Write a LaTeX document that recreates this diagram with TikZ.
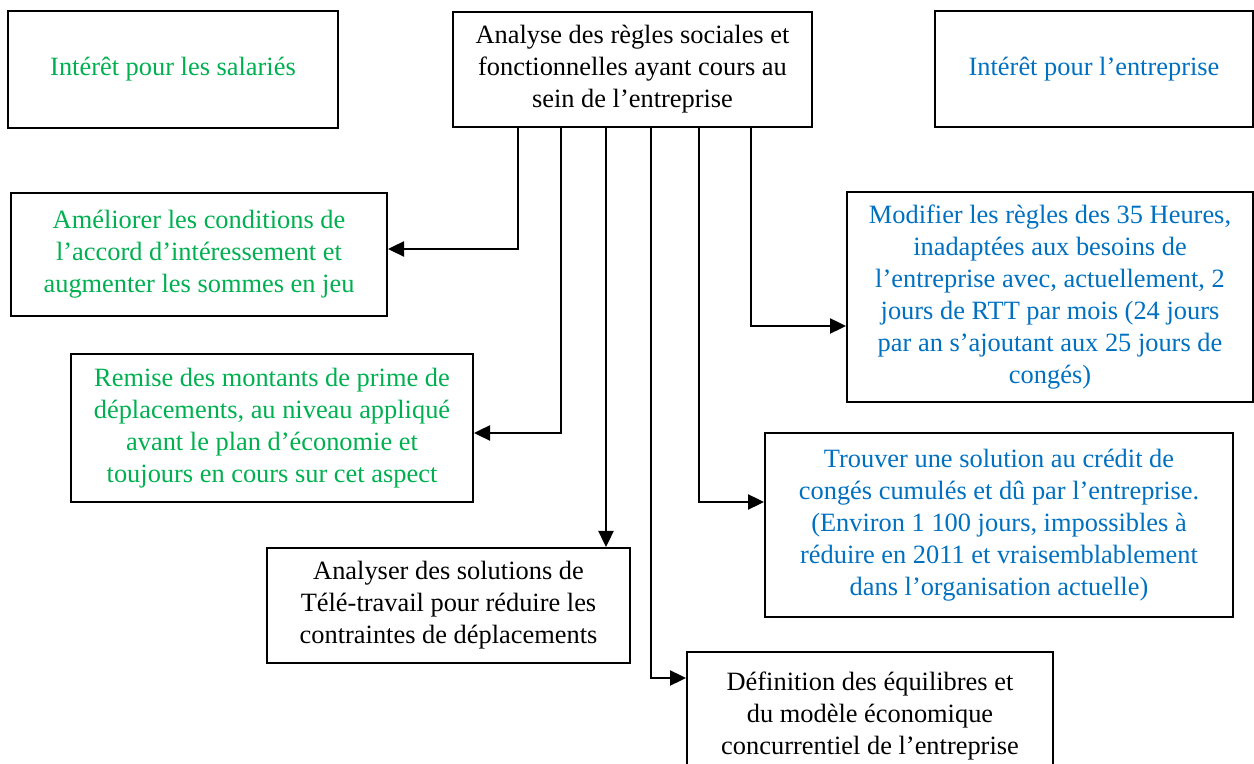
\documentclass[tikz,border=0pt]{standalone}
\usepackage{fontspec}
\setmainfont{Liberation Serif}
\usetikzlibrary{arrows.meta}
\definecolor{grn}{RGB}{0,176,80}
\definecolor{blu}{RGB}{0,112,192}
\begin{document}
\begin{tikzpicture}[x=0.5pt,y=-0.5pt,
  box/.style={draw,line width=1pt,rectangle,inner sep=0pt,align=center,
    font=\fontsize{13.2}{16}\selectfont},
  arr/.style={line width=1.2pt,-{Triangle[length=8pt,width=7.5pt]}}]
\useasboundingbox (0,0) rectangle (1254,764);
\clip (0,0) rectangle (1254,764);
% boxes
\node[box,minimum width=165pt,minimum height=58.5pt,text=grn] (sal) at (173,69.5) {Intérêt pour les salariés};
\node[box,minimum width=179.5pt,minimum height=57.5pt] (main) at (632.5,69.5) {Analyse des règles sociales et\\fonctionnelles ayant cours au\\sein de l’entreprise};
\node[box,minimum width=159pt,minimum height=58pt,text=blu] (ent) at (1094,69) {Intérêt pour l’entreprise};
\node[box,minimum width=188pt,minimum height=61.5pt,text=grn] (amel) at (199,254.5) {Améliorer les conditions de\\l’accord d’intéressement et\\augmenter les sommes en jeu};
\node[box,minimum width=201pt,minimum height=74pt,text=grn] (rem) at (272,428) {Remise des montants de prime de\\déplacements, au niveau appliqué\\avant le plan d’économie et\\toujours en cours sur cet aspect};
\node[box,minimum width=181.5pt,minimum height=57.5pt] (ana) at (448.5,605.5) {Analyser des solutions de\\Télé-travail pour réduire les\\contraintes de déplacements};
\node[box,minimum width=203pt,minimum height=105pt,text=blu] (mod) at (1050,297) {Modifier les règles des 35 Heures,\\inadaptées aux besoins de\\l’entreprise avec, actuellement, 2\\jours de RTT par mois (24 jours\\par an s’ajoutant aux 25 jours de\\congés)};
\node[box,minimum width=234pt,minimum height=92pt,text=blu] (trv) at (999,525) {Trouver une solution au crédit de\\congés cumulés et dû par l’entreprise.\\(Environ 1 100 jours, impossibles à\\réduire en 2011 et vraisemblablement\\dans l’organisation actuelle)};
\node[box,minimum width=183pt,minimum height=64pt] (def) at (870,716) {Définition des équilibres et\\du modèle économique\\concurrentiel de l’entreprise};
% connector columns
\coordinate (c1) at (518,0);
\coordinate (c2) at (561,0);
\coordinate (c3) at (606,0);
\coordinate (c4) at (651,0);
\coordinate (c5) at (699,0);
\coordinate (c6) at (751,0);
\draw[arr] (main.south -| c1) |- ([yshift=2.75pt]amel.east);
\draw[arr] (main.south -| c2) |- ([yshift=-2.5pt]rem.east);
\draw[arr] (main.south -| c3) -- (ana.north -| c3);
\draw[arr] (main.south -| c4) |- ([yshift=19pt]def.west);
\draw[arr] (main.south -| c5) |- ([yshift=11.5pt]trv.west);
\draw[arr] (main.south -| c6) |- ([yshift=-14.5pt]mod.west);
\end{tikzpicture}
\end{document}
